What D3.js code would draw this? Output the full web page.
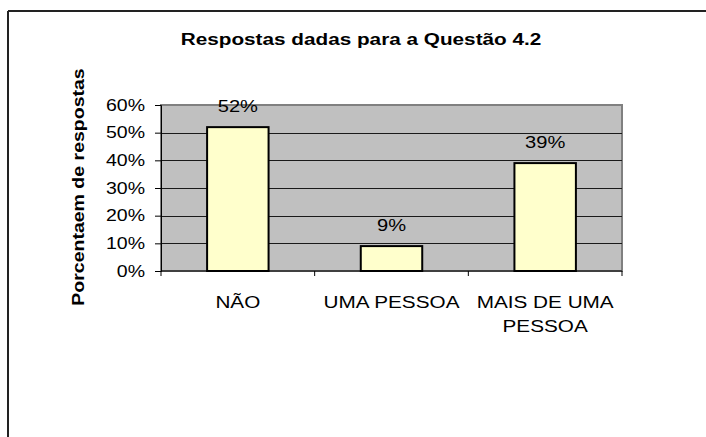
<!DOCTYPE html>
<html>
<head>
<meta charset="utf-8">
<script src="https://cdn.jsdelivr.net/npm/d3@7"></script>
<style>
	body { margin: 0; background: #fff; }
	text { font-family: "Liberation Sans", Arial, sans-serif; fill: #000; }
</style>
</head>
<body>
<svg width="706" height="437"></svg>
<script>
// dados
let categories = [ [ "NÃO" ], [ "UMA PESSOA" ], [ "MAIS DE UMA", "PESSOA" ] ];
let values = [ 0.52, 0.09, 0.39 ];
let value_labels = [ "52%", "9%", "39%" ];
let y_ticks = [ 0, 0.1, 0.2, 0.3, 0.4, 0.5, 0.6 ];
let title = "Respostas dadas para a Questão 4.2";
let y_title = "Porcentaem de respostas";

// o grafico original tem o texto esticado na horizontal
let stretch = 1.22;

function place(x, y) {
	return "translate(" + x + "," + y + ") scale(" + stretch + ",1)";
}

function draw_chart() {
	let svg = d3.select("svg");
	let plot = { left: 161, right: 622, top: 105, bottom: 271 };

	// moldura externa (so topo e esquerda aparecem)
	svg.append("line")
		.attr("x1", 8).attr("y1", 11).attr("x2", 706).attr("y2", 11)
		.style("stroke", "#222").style("stroke-width", 2);
	svg.append("line")
		.attr("x1", 8).attr("y1", 11).attr("x2", 8).attr("y2", 437)
		.style("stroke", "#222").style("stroke-width", 2);

	let x = d3.scaleBand()
		.domain(d3.range(categories.length))
		.range([ plot.left, plot.right ])
		.paddingInner(0.6)
		.paddingOuter(0.3);
	let y = d3.scaleLinear()
		.domain([ 0, 0.6 ])
		.range([ plot.bottom, plot.top ]);

	svg.append("rect")
		.attr("x", plot.left).attr("y", plot.top)
		.attr("width", plot.right - plot.left)
		.attr("height", plot.bottom - plot.top)
		.style("fill", "#c0c0c0")
		.style("stroke", "#808080")
		.style("stroke-width", 2);

	svg.selectAll(".grid")
		.data(y_ticks.slice(1, -1))
		.enter()
		.append("line")
		.attr("class", "grid")
		.attr("x1", plot.left).attr("x2", plot.right)
		.attr("y1", function(d) { return Math.round(y(d)) + 0.5; })
		.attr("y2", function(d) { return Math.round(y(d)) + 0.5; })
		.style("stroke", "#1a1a1a")
		.style("stroke-width", 1);

	svg.selectAll(".bar")
		.data(values)
		.enter()
		.append("rect")
		.attr("class", "bar")
		.attr("x", function(d, i) { return x(i); })
		.attr("y", function(d) { return y(d); })
		.attr("width", x.bandwidth())
		.attr("height", function(d) { return y(0) - y(d); })
		.style("fill", "#ffffcc")
		.style("stroke", "#000")
		.style("stroke-width", 2);

	// eixo y
	let y_axis = svg.append("g")
		.attr("transform", "translate(" + plot.left + ",0)")
		.call(d3.axisLeft(y).tickValues(y_ticks).tickFormat(d3.format(".0%")).tickSize(6));
	y_axis.select(".domain").style("stroke", "#000");
	y_axis.selectAll(".tick line").style("stroke", "#000");
	y_axis.selectAll("text")
		.attr("x", 0)
		.attr("transform", place(-16, 0))
		.style("font-size", "16px")
		.style("font-family", "Liberation Sans, Arial, sans-serif");

	// eixo x: marcas entre categorias
	let step = (plot.right - plot.left) / categories.length;
	svg.append("line")
		.attr("x1", plot.left).attr("x2", plot.right)
		.attr("y1", plot.bottom).attr("y2", plot.bottom)
		.style("stroke", "#000");
	svg.selectAll(".xtick")
		.data(d3.range(categories.length + 1))
		.enter()
		.append("line")
		.attr("class", "xtick")
		.attr("x1", function(d) { return plot.left + d * step; })
		.attr("x2", function(d) { return plot.left + d * step; })
		.attr("y1", plot.bottom).attr("y2", plot.bottom + 5)
		.style("stroke", "#000");

	categories.forEach(function(lines, i) {
		svg.selectAll(".cat" + i)
			.data(lines)
			.enter()
			.append("text")
			.attr("class", "cat" + i)
			.attr("text-anchor", "middle")
			.attr("transform", function(d, j) { return place(x(i) + x.bandwidth() / 2, 308 + j * 23.5); })
			.style("font-size", "17px")
			.text(function(d) { return d; });
	});

	svg.selectAll(".vlabel")
		.data(values)
		.enter()
		.append("text")
		.attr("class", "vlabel")
		.attr("text-anchor", "middle")
		.attr("transform", function(d, i) { return place(x(i) + x.bandwidth() / 2, y(d) - 15); })
		.style("font-size", "16.5px")
		.text(function(d, i) { return value_labels[i]; });

	svg.append("text")
		.attr("transform", place(361, 45))
		.attr("text-anchor", "middle")
		.style("font-size", "17px")
		.style("font-weight", "bold")
		.text(title);

	svg.append("text")
		.attr("transform", "translate(84,187) rotate(-90) scale(" + stretch + ",1)")
		.attr("text-anchor", "middle")
		.style("font-size", "16px")
		.style("font-weight", "bold")
		.text(y_title);
}

draw_chart();
</script>
</body>
</html>
